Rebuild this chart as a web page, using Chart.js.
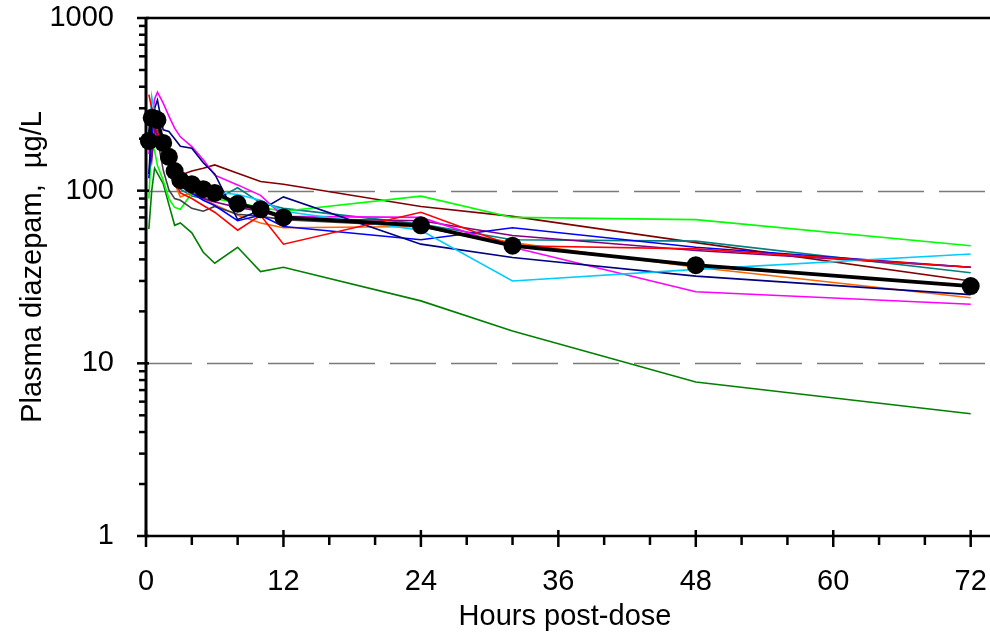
<!DOCTYPE html>
<html>
<head>
<meta charset="utf-8">
<script src="https://cdn.jsdelivr.net/npm/chart.js@4.4.1/dist/chart.umd.min.js"></script>
<style>
  html, body { margin: 0; padding: 0; background: #fff; }
  #wrap { width: 990px; height: 636px; position: relative; }
</style>
</head>
<body>
<div id="wrap"><canvas id="c" width="990" height="636"></canvas></div>
<script>
// ---- DATA ----
const hours = [0.25, 0.5, 0.75, 1, 1.5, 2, 2.5, 3, 4, 5, 6, 8, 10, 12, 24, 32, 48, 72];
const xTickLabels = ['0', '12', '24', '36', '48', '60', '72'];
const yTickLabels = ['1', '10', '100', '1000'];
const xTitle = 'Hours post-dose';
const yTitle = 'Plasma diazepam,  \u00b5g/L';

const subjRed     = [360, 300, 250, 220, 180, 145, 115, 97, 90, 82, 75, 59, 72, 49, 75, 48, 46, 36];
const subjCyan    = [200, 350, 280, 230, 185, 150, 130, 118, 108, 102, 98, 95, 88, 76, 59, 30, 35, 43];
const subjNavy    = [125, 240, 300, 335, 225, 220, 200, 181, 176, 145, 125, 68, 77, 92, 49, 41, 32, 25];
const subjMagenta = [163, 250, 340, 372, 321, 270, 230, 205, 180, 151, 123, 108, 94, 71, 70, 47, 26, 22];
const subjBlue    = [118, 200, 270, 250, 200, 160, 130, 112, 97, 88, 82, 67, 72, 62, 52, 61, 47, 36];
const subjPurple  = [190, 150, 230, 200, 165, 140, 120, 106, 96, 90, 86, 80, 76, 69, 67, 55, 45, 36];
const subjGray    = [200, 240, 250, 200, 132, 101, 90, 88, 79, 76, 81, 73, 71, 68, 62, 48, 37, 28];
const subjLime    = [90, 190, 170, 140, 115, 90, 80, 78, 97, 95, 90, 85, 80, 76, 93, 70, 68, 48];
const subjDkGreen = [60, 100, 135, 126, 110, 83, 63, 65, 57, 44, 38, 47, 34, 36, 23, 15.4, 7.8, 5.1];
const subjOrange  = [250, 280, 300, 250, 180, 140, 110, 92, 98, 90, 83, 72, 65, 61, 62, 50, 36, 24];
const subjTeal    = [220, 300, 280, 240, 190, 150, 120, 102, 93, 90, 88, 104, 85, 79, 64, 52, 51, 33.5];
const subjMaroon  = [200, 280, 250, 210, 170, 145, 130, 123, 130, 135, 141, 126, 113, 109, 81, 71, 50, 30];
const meanConc    = [194, 264, 262, 257, 189, 157, 130, 115, 109, 102, 97, 84, 78, 70, 63, 48, 37, 28];

// ---- build ----
const subjects = [
  { v: subjRed,     c: '#ff0000' },
  { v: subjCyan,    c: '#00ccff' },
  { v: subjNavy,    c: '#000080' },
  { v: subjMagenta, c: '#ff00ff' },
  { v: subjBlue,    c: '#0000ff' },
  { v: subjPurple,  c: '#800080' },
  { v: subjGray,    c: '#404040' },
  { v: subjLime,    c: '#00ff00' },
  { v: subjDkGreen, c: '#008000' },
  { v: subjOrange,  c: '#ff6600' },
  { v: subjTeal,    c: '#008080' },
  { v: subjMaroon,  c: '#800000' }
];
const toXY = arr => hours.map((h, i) => ({ x: h, y: arr[i] }));
const datasets = subjects.map((s, i) => ({
  label: 'Subject ' + (i + 1),
  data: toXY(s.v),
  borderColor: s.c,
  backgroundColor: s.c,
  borderWidth: 1.6,
  pointRadius: 0,
  tension: 0,
  order: 2
}));
datasets.push({
  label: 'Mean',
  data: toXY(meanConc),
  borderColor: '#000',
  backgroundColor: '#000',
  borderWidth: 3.8,
  pointRadius: 9,
  pointBorderWidth: 0,
  tension: 0,
  clip: false,
  order: 1
});

const FONT = "'Liberation Sans', Arial, sans-serif";
const majorY = yTickLabels.map(Number);
const majorX = xTickLabels.map(Number);

const framePlugin = {
  id: 'frame',
  beforeDatasetsDraw(chart) {
    const { ctx, chartArea: a, scales: { y } } = chart;
    ctx.save();
    ctx.strokeStyle = '#7a7a7a';
    ctx.lineWidth = 1.6;
    ctx.setLineDash([46, 15]);
    [10, 100].forEach(v => {
      const py = Math.round(y.getPixelForValue(v)) + 0.5;
      ctx.beginPath(); ctx.moveTo(a.left, py); ctx.lineTo(chart.width, py); ctx.stroke();
    });
    ctx.restore();
  },
  afterDraw(chart) {
    const { ctx, chartArea: a, scales: { x, y } } = chart;
    ctx.save();
    ctx.strokeStyle = '#000';
    // axis lines
    ctx.lineWidth = 2.5;
    ctx.beginPath(); ctx.moveTo(a.left, a.top); ctx.lineTo(chart.width, a.top); ctx.stroke();
    ctx.beginPath(); ctx.moveTo(a.left - 1, a.bottom); ctx.lineTo(chart.width, a.bottom); ctx.stroke();
    ctx.lineWidth = 3;
    ctx.beginPath(); ctx.moveTo(a.left, a.top - 1); ctx.lineTo(a.left, a.bottom + 1); ctx.stroke();
    // y ticks
    ctx.lineWidth = 2.5;
    for (let d = 1; d <= 1000; d *= 10) {
      for (let m = 1; m <= 9; m++) {
        const v = d * m;
        if (v > 1000) break;
        const py = y.getPixelForValue(v);
        ctx.beginPath();
        if (m === 1) { ctx.moveTo(a.left - 9, py); ctx.lineTo(a.left + 3, py); }
        else { ctx.moveTo(a.left - 7, py); ctx.lineTo(a.left, py); }
        ctx.stroke();
      }
    }
    // x ticks
    for (let h = 0; h <= 72; h += 4) {
      const px = x.getPixelForValue(h);
      ctx.beginPath();
      if (h % 12 === 0) { ctx.moveTo(px, a.bottom - 6); ctx.lineTo(px, a.bottom + 11); }
      else { ctx.moveTo(px, a.bottom); ctx.lineTo(px, a.bottom + 9); }
      ctx.stroke();
    }
    // titles
    ctx.fillStyle = '#000';
    ctx.font = '29px ' + FONT;
    ctx.textAlign = 'center';
    ctx.textBaseline = 'alphabetic';
    ctx.fillText(xTitle, 565, 625);
    ctx.translate(41, 267);
    ctx.rotate(-Math.PI / 2);
    ctx.fillText(yTitle, 0, 0);
    ctx.restore();
  }
};

new Chart(document.getElementById('c'), {
  type: 'line',
  data: { datasets },
  options: {
    responsive: false,
    animation: false,
    devicePixelRatio: 1,
    layout: { padding: { top: 18, right: 0, left: 0, bottom: 0 } },
    plugins: { legend: { display: false }, tooltip: { enabled: false } },
    scales: {
      x: {
        type: 'linear',
        min: 0, max: 72.9,
        grid: { display: false },
        border: { display: false },
        ticks: {
          stepSize: 12,
          includeBounds: false,
          autoSkip: false,
          maxRotation: 0,
          padding: 21,
          color: '#000',
          font: { family: FONT, size: 29 },
          callback: v => (majorX.includes(v) ? String(v) : '')
        },
        afterFit: s => { s.height = 100; s.paddingLeft = 0; s.paddingRight = 0; }
      },
      y: {
        type: 'logarithmic',
        min: 1, max: 1000,
        grid: { display: false },
        border: { display: false },
        ticks: {
          autoSkip: false,
          padding: 24,
          color: '#000',
          font: { family: FONT, size: 29 },
          callback: v => (majorY.includes(v) ? String(v) : '')
        },
        afterFit: s => { s.width = 146; s.paddingTop = 0; s.paddingBottom = 0; }
      }
    }
  },
  plugins: [framePlugin]
});
</script>
</body>
</html>
